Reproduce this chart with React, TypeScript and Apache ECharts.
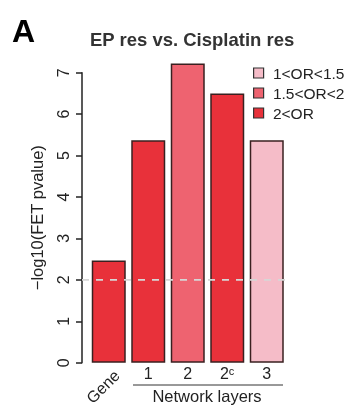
import React, { useEffect, useRef } from "react";
import * as echarts from "echarts";

const categories = ["Gene", "1", "2", "2c", "3"];
const values = [2.47, 5.37, 7.22, 6.5, 5.37];
const orGroups = ["2<OR", "2<OR", "1.5<OR<2", "2<OR", "1<OR<1.5"];
const legendNames = ["1<OR<1.5", "1.5<OR<2", "2<OR"];
const groupColors = ["#F5BCC8", "#EE6370", "#E8313A"];
const threshold = 2;
const yMaxAxis = 7;
const yMaxData = 7.3;

const FONT = "'Liberation Sans', Arial, Helvetica, sans-serif";

export default function App() {
  const ref = useRef<HTMLDivElement>(null);
  useEffect(() => {
    if (!ref.current) return;
    const chart = echarts.init(ref.current, undefined, { renderer: "svg" });
    const barSeries = legendNames.map((name, gi) => ({
      name,
      type: "bar",
      stack: "all",
      xAxisIndex: 0,
      yAxisIndex: 0,
      barWidth: 34,
      itemStyle: { color: groupColors[gi], borderColor: "#3a2020", borderWidth: 1.5 },
      data: values.map((v, i) => (orGroups[i] === name ? v : "-")),
    }));
    chart.setOption({
      animation: false,
      textStyle: { fontFamily: FONT },
      title: [
        { text: "A", left: 7, top: 10, textStyle: { fontSize: 32, fontWeight: "bold", color: "#000", fontFamily: FONT } },
        { text: "EP res vs. Cisplatin res", left: 85, top: 25, textStyle: { fontSize: 18.5, fontWeight: "bold", color: "#333", fontFamily: FONT } },
      ],
      legend: {
        data: legendNames,
        orient: "vertical",
        left: 248,
        top: 60,
        itemWidth: 10,
        itemHeight: 10,
        itemGap: 4,
        icon: "rect",
        formatter: (n: string) => " " + n,
        itemStyle: { borderColor: "#333", borderWidth: 1.2 },
        textStyle: { fontSize: 15.5, color: "#222", fontFamily: FONT },
      },
      grid: [
        { left: 89, right: 67.5, top: 60.3, bottom: 53.3 },
        { left: 82, right: 62, top: 72.7, bottom: 53.3 },
      ],
      xAxis: [
        {
          type: "category",
          gridIndex: 0,
          data: categories,
          position: "bottom",
          axisLine: { show: false },
          axisTick: { show: false },
          axisLabel: {
            margin: 3,
            fontSize: 16,
            color: "#222",
            fontFamily: FONT,
            formatter: (v: string) => (v === "Gene" ? "" : v === "2c" ? "2ᶜ" : v),
          },
        },
        {
          type: "category",
          gridIndex: 1,
          data: categories,
          position: "bottom",
          axisLine: { show: false },
          axisTick: { show: false },
          axisLabel: {
            margin: 24,
            rotate: 45,
            align: "center",
            verticalAlign: "middle",
            fontSize: 16,
            color: "#222",
            fontFamily: FONT,
            formatter: (v: string) => (v === "Gene" ? v : ""),
          },
        },
        { type: "value", gridIndex: 1, min: 0, max: 1, show: false },
      ],
      yAxis: [
        { type: "value", gridIndex: 0, min: 0, max: yMaxData, show: false },
        {
          type: "value",
          gridIndex: 1,
          min: 0,
          max: yMaxAxis,
          interval: 1,
          axisLine: { show: true, lineStyle: { color: "#222", width: 1.5 } },
          axisTick: { show: true, length: 6, lineStyle: { color: "#222", width: 1.5 } },
          splitLine: { show: false },
          axisLabel: { rotate: 90, margin: 11, fontSize: 16, color: "#222", fontFamily: FONT },
          name: "−log10(FET pvalue)",
          nameLocation: "middle",
          nameGap: 37,
          nameTextStyle: { fontSize: 16.5, color: "#222", fontFamily: FONT },
        },
      ],
      series: [
        ...barSeries,
        {
          type: "line",
          xAxisIndex: 2,
          yAxisIndex: 1,
          symbol: "none",
          z: 10,
          lineStyle: { type: [7, 7], color: "#d6d6d6", width: 1.6 },
          data: [
            [0, threshold],
            [1, threshold],
          ],
        },
      ],
      graphic: [
        { type: "line", shape: { x1: 133, y1: 385, x2: 283, y2: 385 }, style: { stroke: "#333", lineWidth: 1 } },
        {
          type: "text",
          x: 207,
          y: 396,
          style: { text: "Network layers", fontSize: 16.5, fill: "#222", align: "center", verticalAlign: "middle", fontFamily: FONT },
        },
      ],
    });
    return () => chart.dispose();
  }, []);
  return <div ref={ref} style={{ position: "fixed", left: 0, top: 0, width: 354, height: 416 }} />;
}
